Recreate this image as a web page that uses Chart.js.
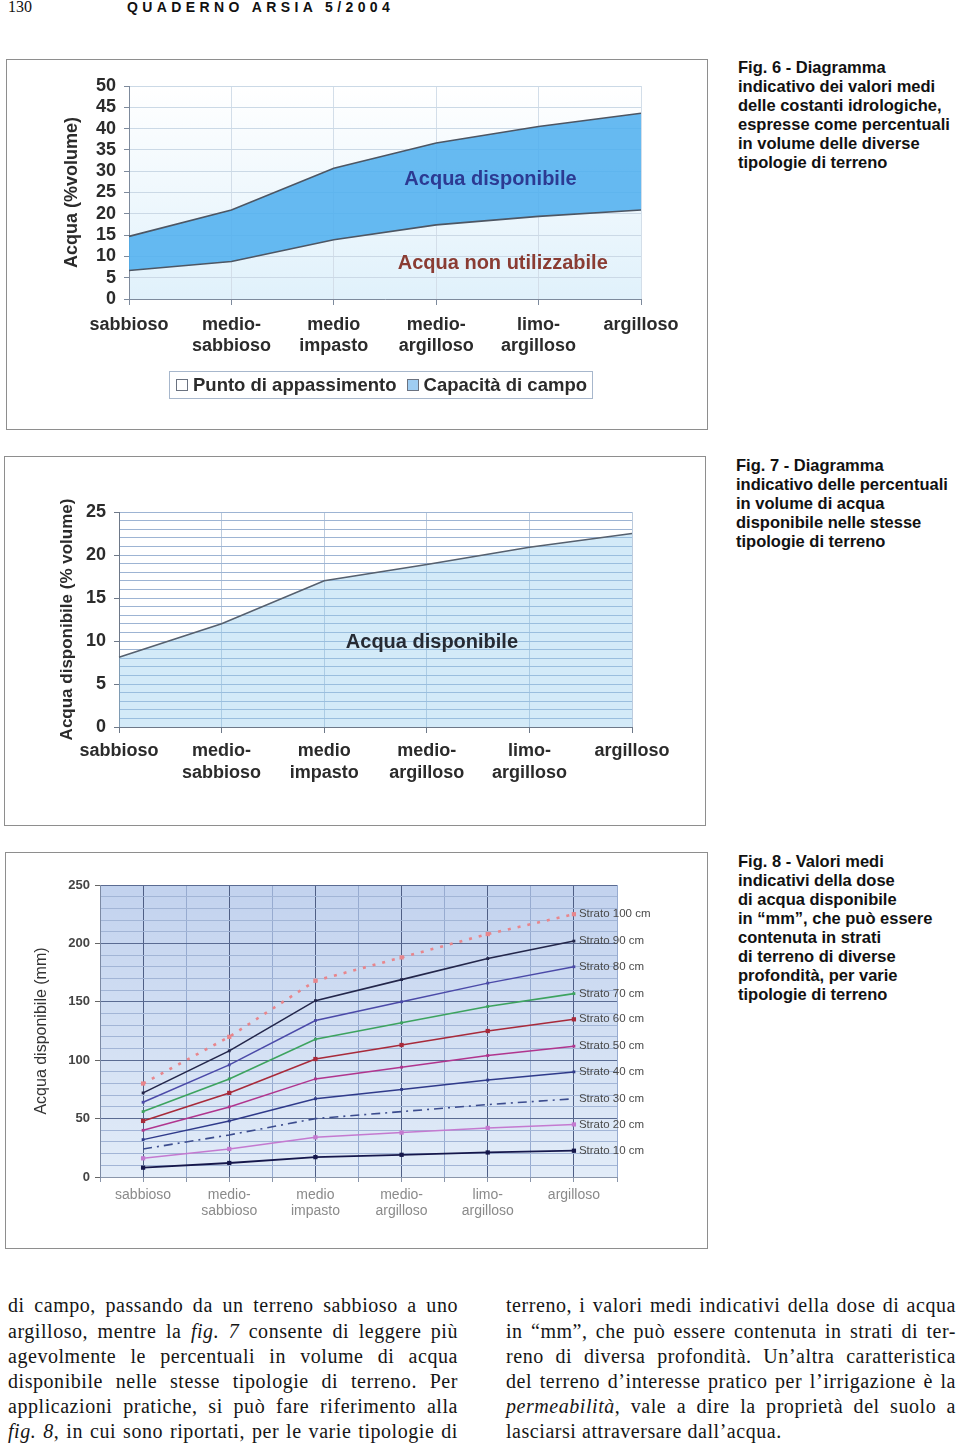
<!DOCTYPE html>
<html lang="it">
<head>
<meta charset="utf-8">
<title>Quaderno ARSIA 5/2004 - pag. 130</title>
<script src="https://cdn.jsdelivr.net/npm/chart.js@4.4.1/dist/chart.umd.min.js"></script>
<style>
  html, body { margin: 0; padding: 0; background: #fff; }
  body { position: relative; width: 960px; height: 1444px; overflow: hidden;
         font-family: "Liberation Sans", Arial, Helvetica, sans-serif; color: #111; }
  .abs { position: absolute; }
  .frame { position: absolute; border: 1px solid #8e8e8e; box-sizing: border-box; }
  .pageno { position: absolute; left: 8px; top: -2px; font: 16px/18px "Liberation Serif", "Times New Roman", serif; }
  .running { position: absolute; left: 127px; top: -1px; font: bold 14px/16px "Liberation Sans", Arial, sans-serif; letter-spacing: 4.4px; }
  .caption { position: absolute; font: bold 16.5px/19px "Liberation Sans", Arial, sans-serif; color: #111; white-space: nowrap; }
  .legend { position: absolute; left: 169px; top: 371px; width: 424px; height: 28px; box-sizing: border-box;
            border: 1px solid #a7b7cc; display: flex; align-items: center; padding-left: 6px;
            font: bold 18.5px "Liberation Sans", Arial, sans-serif; color: #2b2b2b; white-space: nowrap; }
  .legend .sw { display: inline-block; width: 10px; height: 10px; border: 1px solid #6a7280; margin-right: 5px; }
  .legend .item { display: flex; align-items: center; margin-right: 10px; }
  .col { position: absolute; width: 450px; font: 20px/25.2px "Liberation Serif", "Times New Roman", serif;
         letter-spacing: 0.55px; color: #151515; }
  .col div { text-align: justify; text-align-last: justify; white-space: nowrap; }
  .col div.last { text-align: left; text-align-last: left; }
</style>
</head>
<body>

<div class="pageno">130</div>
<div class="running">QUADERNO ARSIA 5/2004</div>

<div class="frame" style="left:6px;top:59px;width:702px;height:371px;"></div>
<div class="abs" style="left:6px;top:59px;"><canvas id="fig6" width="702" height="371"></canvas></div>
<div id="legend6" class="legend"></div>
<div class="caption" style="left:738px;top:57.5px;">Fig. 6 - Diagramma<br>indicativo dei valori medi<br>delle costanti idrologiche,<br>espresse come percentuali<br>in volume delle diverse<br>tipologie di terreno</div>

<div class="frame" style="left:4px;top:456px;width:702px;height:370px;"></div>
<div class="abs" style="left:4px;top:456px;"><canvas id="fig7" width="702" height="370"></canvas></div>
<div class="caption" style="left:736px;top:455.5px;">Fig. 7 - Diagramma<br>indicativo delle percentuali<br>in volume di acqua<br>disponibile nelle stesse<br>tipologie di terreno</div>

<div class="frame" style="left:5px;top:852px;width:703px;height:397px;"></div>
<div class="abs" style="left:5px;top:852px;"><canvas id="fig8" width="703" height="397"></canvas></div>
<div class="caption" style="left:738px;top:851.5px;">Fig. 8 - Valori medi<br>indicativi della dose<br>di acqua disponibile<br>in “mm”, che può essere<br>contenuta in strati<br>di terreno di diverse<br>profondità, per varie<br>tipologie di terreno</div>

<div class="col" style="left:8px;top:1293.4px;">
  <div>di campo, passando da un terreno sabbioso a uno</div>
  <div>argilloso, mentre la <i>fig. 7</i> consente di leggere più</div>
  <div>agevolmente le percentuali in volume di acqua</div>
  <div>disponibile nelle stesse tipologie di terreno. Per</div>
  <div>applicazioni pratiche, si può fare riferimento alla</div>
  <div><i>fig. 8</i>, in cui sono riportati, per le varie tipologie di</div>
</div>
<div class="col" style="left:506px;top:1293.4px;">
  <div>terreno, i valori medi indicativi della dose di acqua</div>
  <div>in “mm”, che può essere contenuta in strati di ter-</div>
  <div>reno di diversa profondità. Un’altra caratteristica</div>
  <div>del terreno d’interesse pratico per l’irrigazione è la</div>
  <div><i>permeabilità</i>, vale a dire la proprietà del suolo a</div>
  <div class="last">lasciarsi attraversare dall’acqua.</div>
</div>

<script>
// soil types, shared by the three figures
const soilTypes = [['sabbioso'], ['medio-', 'sabbioso'], ['medio', 'impasto'], ['medio-', 'argilloso'], ['limo-', 'argilloso'], ['argilloso']];

// Fig. 6 - % volume
const puntoAppassimento = [6.7, 8.8, 13.9, 17.4, 19.4, 20.9];
const capacitaCampo = [14.7, 20.9, 30.7, 36.6, 40.5, 43.6];

// Fig. 7 - % volume
const acquaDisponibile = [8.1, 12.0, 17.0, 18.9, 20.9, 22.5];

// Fig. 8 - mm
const strati = ['Strato 10 cm', 'Strato 20 cm', 'Strato 30 cm', 'Strato 40 cm', 'Strato 50 cm',
                'Strato 60 cm', 'Strato 70 cm', 'Strato 80 cm', 'Strato 90 cm', 'Strato 100 cm'];
const strato10 = [8, 12, 17, 19, 21, 22.5];
const strato20 = [16, 24, 34, 38, 42, 45];
const strato30 = [24, 36, 50, 56, 62, 67];
const strato40 = [32, 48, 67, 75, 83, 90];
const strato50 = [40, 60, 84, 94, 104, 112];
const strato60 = [48, 72, 101, 113, 125, 135];
const strato70 = [56, 84, 118, 132, 146, 157];
const strato80 = [64, 96, 134, 150, 166, 180];
const strato90 = [72, 108, 151, 169, 187, 202];
const strato100 = [80, 120, 168, 188, 208, 225];
const stratiValues = [strato10, strato20, strato30, strato40, strato50, strato60, strato70, strato80, strato90, strato100];

Chart.defaults.font.family = '"Liberation Sans", Arial, Helvetica, sans-serif';
Chart.defaults.color = '#2b2b2b';

// gradient behind the plot area
const plotBackground = {
  id: 'plotBackground',
  beforeDraw(chart, args, opts) {
    const { ctx, chartArea: a } = chart;
    if (!a) return;
    const g = ctx.createLinearGradient(0, a.top, 0, a.bottom);
    g.addColorStop(0, opts.top);
    g.addColorStop(1, opts.bottom);
    ctx.save();
    ctx.fillStyle = g;
    ctx.fillRect(a.left, a.top, a.right - a.left, a.bottom - a.top);
    ctx.restore();
  }
};

// text written inside the plot, placed in data units
const areaLabels = {
  id: 'areaLabels',
  afterDatasetsDraw(chart, args, opts) {
    const { ctx, scales: { x, y } } = chart;
    (opts.items || []).forEach(it => {
      ctx.save();
      ctx.font = it.font;
      ctx.fillStyle = it.color;
      ctx.textAlign = 'center';
      ctx.textBaseline = 'middle';
      ctx.fillText(it.text, x.getPixelForValue(it.x), y.getPixelForValue(it.y));
      ctx.restore();
    });
  }
};

// "Strato .. cm" names at the end of every line
const stratoLabels = {
  id: 'stratoLabels',
  afterDatasetsDraw(chart) {
    const { ctx, scales: { x, y } } = chart;
    ctx.save();
    ctx.font = '11.5px "Liberation Sans", Arial, sans-serif';
    ctx.fillStyle = '#4a4a4a';
    ctx.textBaseline = 'middle';
    chart.data.datasets.forEach(ds => {
      const last = ds.data[ds.data.length - 1];
      ctx.fillText(ds.label, x.getPixelForValue(last.x) + 5, y.getPixelForValue(last.y));
    });
    ctx.restore();
  }
};

// ---------- Fig. 6 ----------
const fig6 = new Chart(document.getElementById('fig6'), {
  type: 'line',
  data: {
    labels: soilTypes,
    datasets: [
      { label: 'Punto di appassimento', data: puntoAppassimento, borderColor: '#4d5663', borderWidth: 1.6,
        pointRadius: 0, fill: false, tension: 0 },
      { label: 'Capacità di campo', data: capacitaCampo, borderColor: '#4d5663', borderWidth: 1.6,
        pointRadius: 0, fill: '-1', backgroundColor: 'rgba(76,174,238,0.85)', tension: 0 }
    ]
  },
  options: {
    responsive: false,
    animation: false,
    layout: { padding: { top: 27, right: 67, left: 0, bottom: 0 } },
    plugins: {
      legend: { display: false },
      tooltip: { enabled: false },
      plotBackground: { top: '#ffffff', bottom: '#e0f1fb' },
      areaLabels: {
        items: [
          { text: 'Acqua disponibile', x: 3.53, y: 28.0, font: 'bold 20px "Liberation Sans", Arial, sans-serif', color: '#2c3a92' },
          { text: 'Acqua non utilizzabile', x: 3.65, y: 8.3, font: 'bold 20px "Liberation Sans", Arial, sans-serif', color: '#8a3c33' }
        ]
      }
    },
    scales: {
      x: {
        type: 'category',
        offset: false,
        grid: { color: '#d3dee9', tickColor: '#7d8a9c', tickLength: 6 },
        border: { color: '#7d8a9c' },
        ticks: { font: { size: 18, weight: 'bold', lineHeight: 1.18 }, color: '#2b2b2b', padding: 9,
                 maxRotation: 0, autoSkip: false },
        afterFit: s => { s.height = 131; }
      },
      y: {
        min: 0, max: 50,
        ticks: { stepSize: 5, autoSkip: false, font: { size: 18, weight: 'bold' }, color: '#2b2b2b', padding: 8 },
        grid: { color: '#cbd9e6', tickColor: '#7d8a9c', tickLength: 5 },
        border: { color: '#7d8a9c' },
        title: { display: true, text: 'Acqua (%volume)', font: { size: 18, weight: 'bold' }, color: '#2b2b2b',
                 padding: { top: 55, bottom: 0 } },
        afterFit: s => { s.width = 123; }
      }
    }
  },
  plugins: [plotBackground, areaLabels]
});

// legend of fig. 6 built from the dataset names
const legendSwatches = ['#ffffff', '#9fcdf2'];
document.getElementById('legend6').innerHTML = fig6.data.datasets.map((ds, i) =>
  `<span class="item"><span class="sw" style="background:${legendSwatches[i]}"></span>${ds.label}</span>`).join('');

// ---------- Fig. 7 ----------
new Chart(document.getElementById('fig7'), {
  type: 'line',
  data: {
    labels: soilTypes,
    datasets: [
      { label: 'Acqua disponibile', data: acquaDisponibile, borderColor: '#56606e', borderWidth: 1.6,
        pointRadius: 0, fill: 'origin', backgroundColor: 'rgba(150,205,238,0.42)', tension: 0 }
    ]
  },
  options: {
    responsive: false,
    animation: false,
    layout: { padding: { top: 56, right: 74, left: 0, bottom: 0 } },
    plugins: {
      legend: { display: false },
      tooltip: { enabled: false },
      areaLabels: {
        items: [
          { text: 'Acqua disponibile', x: 3.05, y: 9.85, font: 'bold 20px "Liberation Sans", Arial, sans-serif', color: '#262a33' }
        ]
      }
    },
    scales: {
      x: {
        type: 'category',
        offset: false,
        grid: { color: '#bccbdd', tickColor: '#6d7888', tickLength: 6 },
        border: { color: '#6d7888' },
        ticks: { font: { size: 18, weight: 'bold', lineHeight: 1.17 }, color: '#2b2b2b', padding: 8,
                 maxRotation: 0, autoSkip: false },
        afterFit: s => { s.height = 99; }
      },
      y: {
        min: 0, max: 25,
        ticks: { stepSize: 1, autoSkip: false, callback: v => (v % 5 === 0 ? v : ''),
                 font: { size: 18, weight: 'bold' }, color: '#2b2b2b', padding: 8 },
        grid: { color: '#9db4d3', tickColor: c => (c.tick.value % 5 === 0 ? '#6d7888' : 'transparent'), tickLength: 5 },
        border: { color: '#6d7888' },
        title: { display: true, text: 'Acqua disponibile (% volume)', font: { size: 17, weight: 'bold' }, color: '#2b2b2b',
                 padding: { top: 53, bottom: 0 } },
        afterFit: s => { s.width = 115; }
      }
    }
  },
  plugins: [areaLabels]
});

// ---------- Fig. 8 ----------
const stratoColors = ['#15174b', '#c47ad0', '#3b4c8e', '#2f3a8a', '#b0358e', '#a82a3a', '#3da35f', '#4b4aa8', '#23264a', '#e8868c'];
const stratoDash = [[], [], [9, 5, 2, 5], [], [], [], [], [], [], [3, 7]];
const stratoWidth = [1.8, 1.5, 1.6, 1.5, 1.5, 1.6, 1.6, 1.5, 1.6, 2.6];
const stratoPoints = [3, 3, 0, 2, 2, 3, 2, 2, 2, 3];

new Chart(document.getElementById('fig8'), {
  type: 'line',
  data: {
    datasets: strati.map((name, i) => ({
      label: name,
      data: stratiValues[i].map((v, k) => ({ x: k, y: v })),
      borderColor: stratoColors[i],
      backgroundColor: stratoColors[i],
      borderWidth: stratoWidth[i],
      borderDash: stratoDash[i],
      pointStyle: 'rect',
      pointRadius: stratoPoints[i],
      pointBorderWidth: 0,
      fill: false,
      tension: 0
    }))
  },
  options: {
    responsive: false,
    animation: false,
    layout: { padding: { top: 33, right: 91, left: 0, bottom: 0 } },
    plugins: {
      legend: { display: false },
      tooltip: { enabled: false },
      plotBackground: { top: '#c2d2ee', bottom: '#e2ecf8' }
    },
    scales: {
      x: {
        type: 'linear',
        min: -0.5, max: 5.5,
        afterBuildTicks: axis => {
          axis.ticks = [];
          for (let v = -0.5; v <= 5.5; v += 0.5) axis.ticks.push({ value: v });
        },
        grid: { color: c => (Number.isInteger(c.tick.value) ? '#4f5f85' : '#97abd0'), tickColor: '#8a96aa', tickLength: 5 },
        border: { color: '#8a96aa' },
        ticks: { autoSkip: false, maxRotation: 0, callback: v => (Number.isInteger(v) ? soilTypes[v] : ''),
                 font: { size: 14, lineHeight: 1.15 }, color: '#8a8a8a', padding: 5 },
        afterFit: s => { s.height = 72; }
      },
      y: {
        min: 0, max: 250,
        ticks: { stepSize: 10, autoSkip: false, callback: v => (v % 50 === 0 ? v : ''),
                 font: { size: 13, weight: 'bold' }, color: '#444', padding: 5 },
        grid: { color: c => (c.tick.value % 50 === 0 ? '#5a6b92' : '#a2b5d6'),
                tickColor: c => (c.tick.value % 50 === 0 ? '#666' : 'transparent'), tickLength: 5 },
        border: { color: '#7c8aa4' },
        title: { display: true, text: 'Acqua disponibile (mm)', font: { size: 16 }, color: '#333',
                 padding: { top: 27, bottom: 0 } },
        afterFit: s => { s.width = 95; }
      }
    }
  },
  plugins: [plotBackground, stratoLabels]
});
</script>
</body>
</html>
